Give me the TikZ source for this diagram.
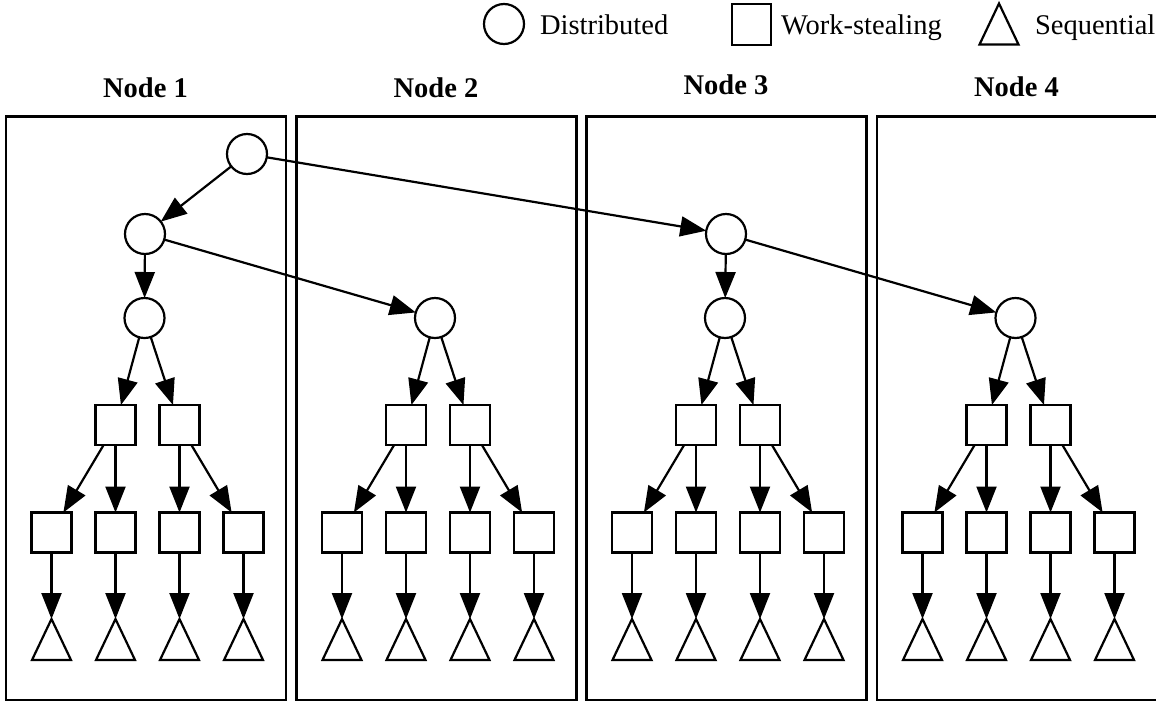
\documentclass[tikz,border=0pt]{standalone}
\usepackage{fontspec}
\setmainfont{Liberation Serif}
\usetikzlibrary{arrows.meta,shapes.geometric}
\begin{document}
\begin{tikzpicture}[x=1pt,y=-1pt,
  every node/.style={inner sep=0pt, outer sep=0pt},
  dnode/.style={circle, draw, line width=2.2pt, minimum size=40pt},
  wnode/.style={rectangle, draw, line width=2.2pt, minimum width=40pt, minimum height=40pt},
  snode/.style={isosceles triangle, isosceles triangle stretches, shape border rotate=90, draw, line width=2.2pt, minimum width=39pt, minimum height=41pt, anchor=apex},
  frame/.style={draw, line width=2.8pt, minimum width=280pt, minimum height=583.5pt, anchor=north west},
  edge/.style={line width=2.2pt, -{Triangle[length=26pt,width=20pt]}},
  title/.style={font=\fontsize{28.5}{30}\selectfont\bfseries, anchor=base},
  legend/.style={font=\fontsize{28.5}{30}\selectfont, anchor=base west}
]
\useasboundingbox (0,0) rectangle (1156,702);
\clip (0,0) rectangle (1156,702);
% legend
\node[dnode] (lc) at (504,24) {};
\node[legend] (lct) at (540,34.5) {Distributed};
\node[wnode, minimum width=39pt, minimum height=41pt] (ls) at (751.5,24.5) {};
\node[legend] (lst) at (781,34.5) {Work-stealing};
\node[snode] (lt) at (999,3.5) {};
\node[legend] (ltt) at (1035,34.5) {Sequential};
% boxes, titles and trees
\foreach \i/\L/\B in {1/6/97, 2/296.5/97.5, 3/586.5/94.5, 4/877/96} {
  \node[frame] (box\i) at (\L,116.5) {};
  \node[title] (title\i) at (\L+139.5,\B) {Node \i};
  \node[dnode] (c3-\i) at (\L+138.5,318) {};
  \node[wnode] (a\i-1) at (\L+109.5,425) {};
  \node[wnode] (a\i-2) at (\L+173.5,425) {};
  \node[wnode] (b\i-1) at (\L+45.5,532.5) {};
  \node[wnode] (b\i-2) at (\L+109.5,532.5) {};
  \node[wnode] (b\i-3) at (\L+173.5,532.5) {};
  \node[wnode] (b\i-4) at (\L+237.5,532.5) {};
  \node[snode] (t\i-1) at (\L+45.5,619) {};
  \node[snode] (t\i-2) at (\L+109.5,619) {};
  \node[snode] (t\i-3) at (\L+173.5,619) {};
  \node[snode] (t\i-4) at (\L+237.5,619) {};
  \draw[edge] (c3-\i) -- (a\i-1);
  \draw[edge] (c3-\i) -- (a\i-2);
  \draw[edge] (a\i-1) -- (b\i-1);
  \draw[edge] (a\i-1) -- (b\i-2);
  \draw[edge] (a\i-2) -- (b\i-3);
  \draw[edge] (a\i-2) -- (b\i-4);
  \draw[edge] (b\i-1) -- (t\i-1);
  \draw[edge] (b\i-2) -- (t\i-2);
  \draw[edge] (b\i-3) -- (t\i-3);
  \draw[edge] (b\i-4) -- (t\i-4);
}
\node[dnode] (r) at (247,154) {};
\node[dnode] (c2-1) at (145,234) {};
\node[dnode] (c2-3) at (726,234) {};
\draw[edge] (r) -- (c2-1);
\draw[edge] (r) -- (c2-3);
\draw[edge] (c2-1) -- (c3-1);
\draw[edge] (c2-1) -- (c3-2);
\draw[edge] (c2-3) -- (c3-3);
\draw[edge] (c2-3) -- (c3-4);
\end{tikzpicture}
\end{document}
